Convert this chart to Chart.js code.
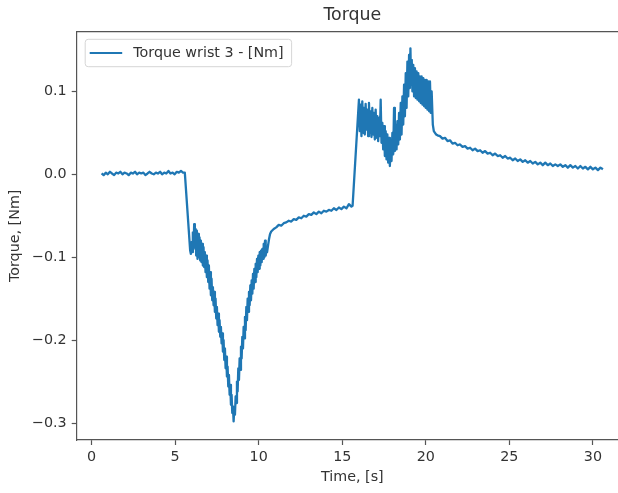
<!DOCTYPE html>
<html>
<head>
<meta charset="utf-8">
<script src="https://cdn.jsdelivr.net/npm/chart.js@4"></script>
<style>
  html, body { margin: 0; padding: 0; overflow: hidden; background: #fff; }
  #chart { position: absolute; left: 0; top: 0; }
</style>
</head>
<body>
<canvas id="chart" width="700" height="493"></canvas>
<script>
// [time s, torque Nm], split by phase of the motion
const restPhase = [
    [0.60, 0.001], [0.72, -0.001], [0.85, 0.002], [0.97, 0.000], [1.10, 0.003], [1.22, 0.001],
    [1.35, -0.001], [1.47, 0.002], [1.60, 0.001], [1.72, 0.003], [1.85, 0.000], [1.97, 0.002],
    [2.10, 0.001], [2.22, -0.001], [2.35, 0.002], [2.47, 0.001], [2.60, 0.003], [2.72, 0.000],
    [2.85, 0.002], [2.97, 0.001], [3.10, 0.002], [3.22, -0.001], [3.35, 0.001], [3.47, 0.003],
    [3.60, 0.001], [3.72, 0.000], [3.85, 0.002], [3.97, 0.001], [4.10, 0.003], [4.22, 0.000],
    [4.35, 0.002], [4.47, 0.001], [4.60, 0.004], [4.72, 0.001], [4.85, 0.002], [4.97, 0.000],
    [5.10, 0.003], [5.22, 0.002], [5.35, 0.004], [5.47, 0.002], [5.58, 0.002]
];

const dipPhase = [
    [5.90, -0.092], [5.94, -0.096], [5.98, -0.082], [6.02, -0.094], [6.06, -0.070], [6.10, -0.090],
    [6.14, -0.060], [6.18, -0.088], [6.22, -0.066], [6.26, -0.098], [6.30, -0.068], [6.34, -0.102],
    [6.38, -0.072], [6.42, -0.100], [6.46, -0.076], [6.50, -0.104], [6.54, -0.080], [6.58, -0.106],
    [6.62, -0.084], [6.66, -0.110], [6.70, -0.088], [6.74, -0.112], [6.78, -0.094], [6.82, -0.118],
    [6.86, -0.098], [6.90, -0.124], [6.94, -0.104], [6.98, -0.130], [7.02, -0.110], [7.06, -0.138],
    [7.10, -0.118], [7.14, -0.146], [7.18, -0.126], [7.22, -0.152], [7.26, -0.136], [7.30, -0.158],
    [7.34, -0.142], [7.38, -0.166], [7.42, -0.150], [7.46, -0.174], [7.50, -0.160], [7.54, -0.182],
    [7.58, -0.168], [7.62, -0.190], [7.66, -0.176], [7.70, -0.196], [7.74, -0.184], [7.78, -0.204],
    [7.82, -0.192], [7.86, -0.214], [7.90, -0.200], [7.94, -0.224], [7.98, -0.210], [8.02, -0.234],
    [8.06, -0.220], [8.10, -0.244], [8.14, -0.232], [8.18, -0.256], [8.22, -0.242], [8.26, -0.266],
    [8.30, -0.254], [8.34, -0.278], [8.38, -0.266], [8.42, -0.288], [8.46, -0.280], [8.50, -0.298],
    [8.54, -0.282], [8.58, -0.290], [8.62, -0.268], [8.66, -0.276], [8.70, -0.250], [8.74, -0.262],
    [8.78, -0.234], [8.82, -0.248], [8.86, -0.222], [8.90, -0.236], [8.94, -0.208], [8.98, -0.222],
    [9.02, -0.196], [9.06, -0.210], [9.10, -0.184], [9.14, -0.198], [9.18, -0.172], [9.22, -0.188],
    [9.26, -0.160], [9.30, -0.176], [9.34, -0.150], [9.38, -0.166], [9.42, -0.142], [9.46, -0.158],
    [9.50, -0.134], [9.54, -0.152], [9.58, -0.128], [9.62, -0.144], [9.66, -0.120], [9.70, -0.138],
    [9.74, -0.114], [9.78, -0.130], [9.82, -0.108], [9.86, -0.124], [9.90, -0.102], [9.94, -0.118],
    [9.98, -0.098], [10.02, -0.114], [10.06, -0.094], [10.10, -0.110], [10.14, -0.092], [10.18, -0.106],
    [10.22, -0.090], [10.26, -0.102], [10.30, -0.084], [10.34, -0.100], [10.38, -0.080], [10.42, -0.098],
    [10.46, -0.090], [10.50, -0.094], [10.56, -0.086], [10.62, -0.078], [10.68, -0.072], [10.75, -0.069]
];

const holdPhase = [
    [10.90, -0.066], [11.05, -0.064], [11.20, -0.061], [11.35, -0.062], [11.50, -0.059], [11.65, -0.058],
    [11.80, -0.056], [11.95, -0.057], [12.10, -0.054], [12.25, -0.055], [12.40, -0.052], [12.55, -0.053],
    [12.70, -0.050], [12.85, -0.051], [13.00, -0.048], [13.15, -0.049], [13.30, -0.046], [13.45, -0.048],
    [13.60, -0.045], [13.75, -0.047], [13.90, -0.044], [14.05, -0.045], [14.20, -0.043], [14.35, -0.044],
    [14.50, -0.041], [14.65, -0.043], [14.80, -0.040], [14.95, -0.042], [15.10, -0.039], [15.25, -0.041],
    [15.40, -0.036], [15.55, -0.039], [15.62, -0.038]
];

const risePhase = [
    [16.00, 0.090], [16.05, 0.052], [16.10, 0.084], [16.15, 0.046], [16.20, 0.088], [16.25, 0.050],
    [16.30, 0.080], [16.35, 0.048], [16.40, 0.085], [16.45, 0.054], [16.50, 0.078], [16.55, 0.046],
    [16.60, 0.086], [16.65, 0.050], [16.70, 0.076], [16.75, 0.045], [16.80, 0.080], [16.85, 0.048],
    [16.90, 0.074], [16.95, 0.042], [17.00, 0.078], [17.05, 0.044], [17.10, 0.070], [17.15, 0.040],
    [17.20, 0.068], [17.25, 0.046], [17.30, 0.090], [17.35, 0.038], [17.40, 0.062], [17.45, 0.030],
    [17.50, 0.058], [17.55, 0.022], [17.60, 0.052], [17.65, 0.018], [17.70, 0.048], [17.75, 0.014],
    [17.80, 0.044], [17.85, 0.010], [17.90, 0.040], [17.95, 0.016], [18.00, 0.050], [18.05, 0.024],
    [18.10, 0.080], [18.15, 0.028], [18.20, 0.060], [18.25, 0.030], [18.30, 0.064], [18.35, 0.036],
    [18.40, 0.074], [18.45, 0.042], [18.50, 0.086], [18.55, 0.048], [18.60, 0.094], [18.65, 0.060],
    [18.70, 0.108], [18.75, 0.070], [18.80, 0.122], [18.85, 0.080], [18.90, 0.136], [18.95, 0.094],
    [19.00, 0.144], [19.05, 0.104], [19.08, 0.152], [19.12, 0.108], [19.16, 0.138], [19.20, 0.100],
    [19.25, 0.132], [19.30, 0.094], [19.35, 0.128], [19.40, 0.092], [19.45, 0.124], [19.50, 0.090],
    [19.55, 0.122], [19.60, 0.088], [19.65, 0.118], [19.70, 0.086], [19.75, 0.118], [19.80, 0.084],
    [19.85, 0.116], [19.90, 0.082], [19.95, 0.114], [20.00, 0.080], [20.05, 0.114], [20.10, 0.078],
    [20.15, 0.112], [20.20, 0.076], [20.25, 0.112], [20.30, 0.074], [20.35, 0.100], [20.42, 0.060],
    [20.48, 0.052], [20.55, 0.050], [20.62, 0.048], [20.70, 0.047]
];

const decayPhase = [
    [20.85, 0.046], [21.00, 0.043], [21.15, 0.044], [21.30, 0.040], [21.45, 0.041], [21.60, 0.037],
    [21.75, 0.038], [21.90, 0.035], [22.05, 0.036], [22.20, 0.033], [22.35, 0.034], [22.50, 0.031],
    [22.65, 0.032], [22.80, 0.029], [22.95, 0.031], [23.10, 0.028], [23.25, 0.029], [23.40, 0.026],
    [23.55, 0.028], [23.70, 0.025], [23.85, 0.026], [24.00, 0.023], [24.15, 0.025], [24.30, 0.022],
    [24.45, 0.023], [24.60, 0.020], [24.75, 0.022], [24.90, 0.019], [25.05, 0.020], [25.20, 0.017],
    [25.35, 0.019], [25.50, 0.016], [25.65, 0.018], [25.80, 0.015], [25.95, 0.017], [26.10, 0.014],
    [26.25, 0.016], [26.40, 0.013], [26.55, 0.015], [26.70, 0.012], [26.85, 0.014], [27.00, 0.011],
    [27.15, 0.014], [27.30, 0.011], [27.45, 0.013], [27.60, 0.010], [27.75, 0.012], [27.90, 0.010],
    [28.05, 0.012], [28.20, 0.009], [28.35, 0.011], [28.50, 0.008], [28.65, 0.011], [28.80, 0.008],
    [28.95, 0.010], [29.10, 0.007], [29.25, 0.010], [29.40, 0.007], [29.55, 0.009], [29.70, 0.006],
    [29.85, 0.009], [30.00, 0.006], [30.15, 0.008], [30.30, 0.005], [30.45, 0.008], [30.60, 0.006]
];

const chartTitle = 'Torque';
const seriesLabel = 'Torque wrist 3 - [Nm]';
const lineColor = '#1f77b4';
const inkColor = '#333333';
const spineColor = '#555555';
const fontFamily = "'DejaVu Sans', sans-serif";

const samples = [...restPhase, ...dipPhase, ...holdPhase, ...risePhase, ...decayPhase]
    .map(([x, y]) => ({ x, y }));

// matplotlib style: title centred over the axes, top spine, legend box upper-left
const frameAndLegend = {
    id: 'frameAndLegend',
    afterDatasetsDraw(chart) {
        const { ctx, chartArea: area } = chart;
        ctx.save();
        ctx.strokeStyle = spineColor;
        ctx.lineWidth = 1.2;
        ctx.beginPath();
        ctx.moveTo(area.left, area.top);
        ctx.lineTo(area.right, area.top);
        ctx.stroke();

        ctx.fillStyle = inkColor;
        ctx.font = `17.4px ${fontFamily}`;
        ctx.textAlign = 'center';
        ctx.textBaseline = 'alphabetic';
        ctx.fillText(chartTitle, (area.left + area.right) / 2, area.top - 11.5);

        ctx.font = `14.3px ${fontFamily}`;
        ctx.textAlign = 'left';
        const textWidth = ctx.measureText(seriesLabel).width;
        const bx = area.left + 8.5, by = area.top + 7.6, bh = 27.4;
        const bw = 48 + textWidth + 8;
        ctx.beginPath();
        ctx.roundRect(bx, by, bw, bh, 3);
        ctx.fillStyle = 'rgba(255,255,255,0.8)';
        ctx.fill();
        ctx.strokeStyle = '#d6d6d6';
        ctx.lineWidth = 1;
        ctx.stroke();

        const cy = by + bh / 2;
        ctx.beginPath();
        ctx.moveTo(bx + 4.5, cy);
        ctx.lineTo(bx + 37, cy);
        ctx.strokeStyle = lineColor;
        ctx.lineWidth = 2;
        ctx.stroke();

        ctx.fillStyle = inkColor;
        ctx.textBaseline = 'middle';
        ctx.fillText(seriesLabel, bx + 48, cy);
        ctx.restore();
    }
};

new Chart(document.getElementById('chart'), {
    type: 'line',
    data: {
        datasets: [{
            label: seriesLabel,
            data: samples,
            borderColor: lineColor,
            borderWidth: 2.3,
            borderJoinStyle: 'round',
            pointRadius: 0,
            tension: 0,
            fill: false
        }]
    },
    options: {
        responsive: false,
        animation: false,
        layout: { padding: { left: 0, right: 72, top: 31.7, bottom: 0 } },
        plugins: {
            legend: { display: false },
            tooltip: { enabled: false },
            title: { display: false }
        },
        scales: {
            x: {
                type: 'linear',
                min: -0.89,
                max: 32.1,
                afterFit: (scale) => { scale.height = 53; },
                border: { display: true, color: spineColor, width: 1.2 },
                grid: { drawOnChartArea: false, drawTicks: true, tickLength: 5, tickColor: spineColor, tickWidth: 1.2 },
                ticks: {
                    stepSize: 5,
                    includeBounds: false,
                    maxRotation: 0,
                    padding: 4,
                    color: inkColor,
                    font: { family: fontFamily, size: 14.3 },
                    callback: (v) => String(v)
                },
                title: {
                    display: true,
                    text: 'Time, [s]',
                    color: inkColor,
                    font: { family: fontFamily, size: 14.3 },
                    padding: { top: 0, bottom: 7 }
                }
            },
            y: {
                type: 'linear',
                min: -0.3205,
                max: 0.172,
                afterFit: (scale) => { scale.width = 76.7; },
                border: { display: true, color: spineColor, width: 1.2 },
                grid: { drawOnChartArea: false, drawTicks: true, tickLength: 5, tickColor: spineColor, tickWidth: 1.2 },
                ticks: {
                    stepSize: 0.1,
                    includeBounds: false,
                    padding: 5,
                    color: inkColor,
                    font: { family: fontFamily, size: 14.3 },
                    callback: (v) => Math.abs(v) < 1e-9 ? '0.0' : (v < 0 ? '\u2212' : '') + Math.abs(v).toFixed(1)
                },
                title: {
                    display: true,
                    text: 'Torque, [Nm]',
                    color: inkColor,
                    font: { family: fontFamily, size: 14.3 },
                    padding: { top: 6.5, bottom: 0 }
                }
            }
        }
    },
    plugins: [frameAndLegend]
});
</script>
</body>
</html>
